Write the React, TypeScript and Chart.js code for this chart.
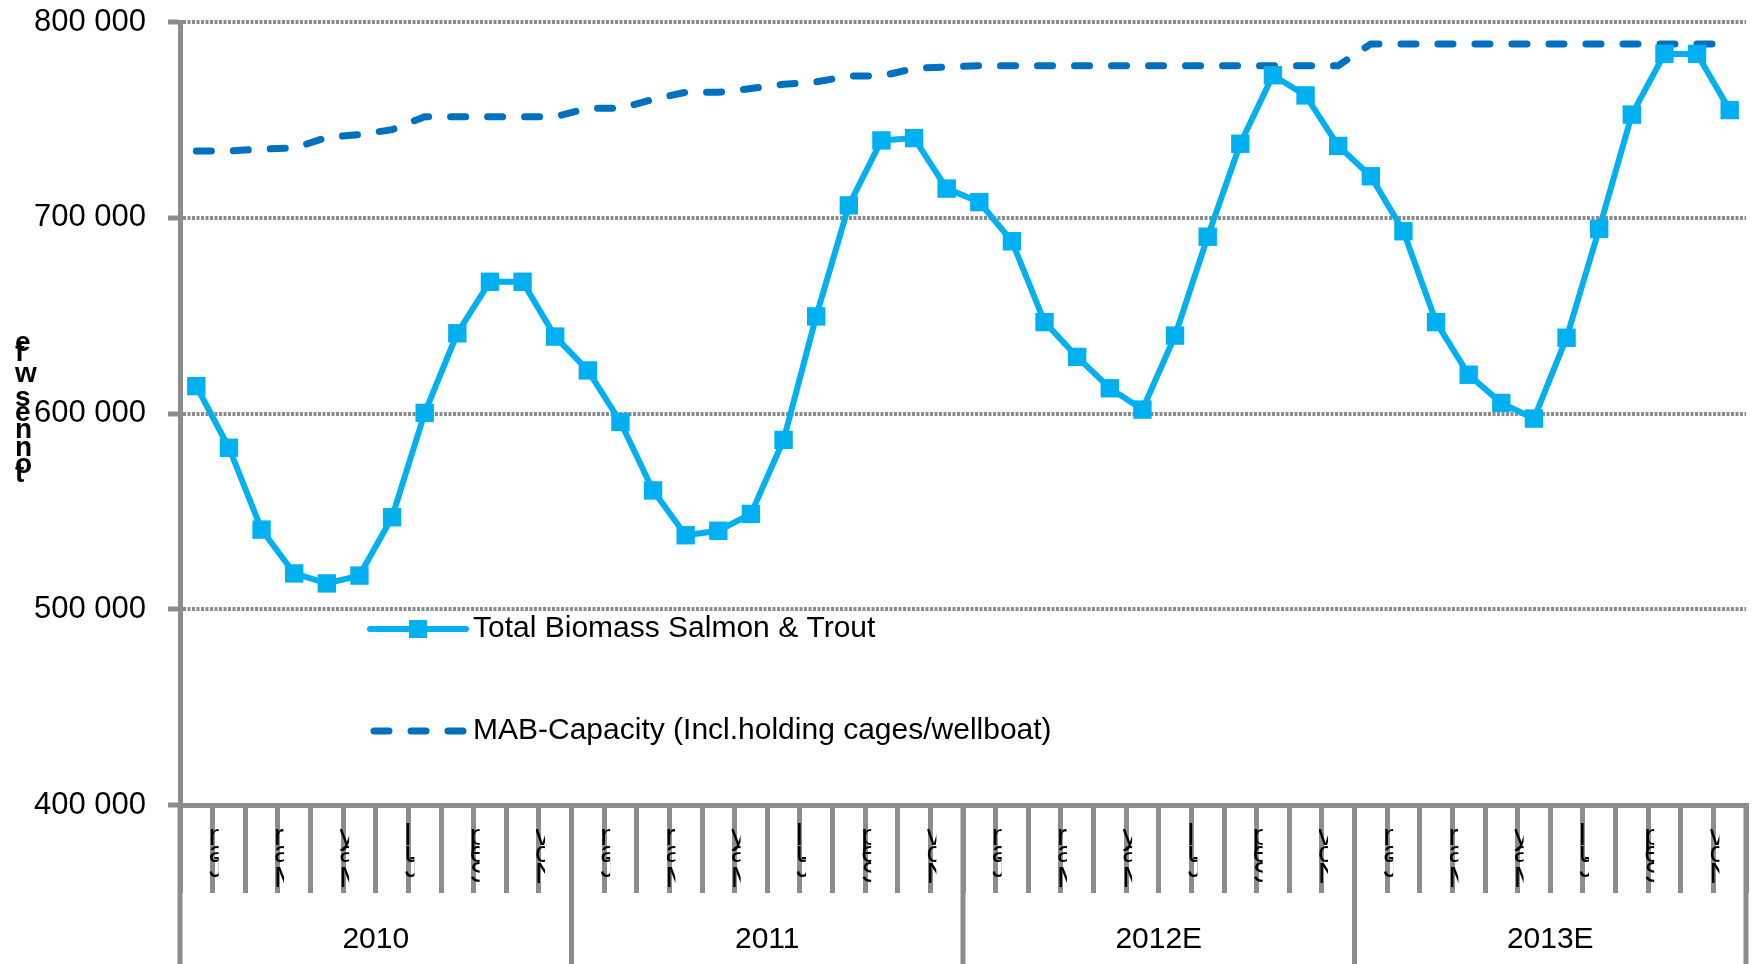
import React, { useEffect, useRef } from 'react';
import { Chart, registerables } from 'chart.js';

Chart.register(...registerables);

const categories = [
  'Jan 2010', 'Feb 2010', 'Mar 2010', 'Apr 2010', 'May 2010', 'Jun 2010', 'Jul 2010', 'Aug 2010', 'Sep 2010', 'Oct 2010', 'Nov 2010', 'Dec 2010',
  'Jan 2011', 'Feb 2011', 'Mar 2011', 'Apr 2011', 'May 2011', 'Jun 2011', 'Jul 2011', 'Aug 2011', 'Sep 2011', 'Oct 2011', 'Nov 2011', 'Dec 2011',
  'Jan 2012', 'Feb 2012', 'Mar 2012', 'Apr 2012', 'May 2012', 'Jun 2012', 'Jul 2012', 'Aug 2012', 'Sep 2012', 'Oct 2012', 'Nov 2012', 'Dec 2012',
  'Jan 2013', 'Feb 2013', 'Mar 2013', 'Apr 2013', 'May 2013', 'Jun 2013', 'Jul 2013', 'Aug 2013', 'Sep 2013', 'Oct 2013', 'Nov 2013', 'Dec 2013',
];

const biomass = [
  614000, 582500, 540700, 518300, 513200, 517200, 547000, 600300, 641000, 667300, 667300, 639300,
  622000, 595700, 560700, 537800, 540100, 548700, 586500, 649600, 706300, 739500, 740700, 714900,
  708000, 688000, 646700, 628900, 612900, 602000, 639800, 690300, 737800, 772800, 762500, 736700,
  721200, 693100, 646700, 619800, 605400, 597400, 638700, 694300, 752700, 783700, 783700, 755000,
];

const mabCapacity = [
  734100, 734100, 735100, 735600, 741000, 742500, 745000, 751600, 751600, 751600, 751600, 751600,
  755900, 755900, 760500, 764100, 764100, 766000, 768200, 769400, 772400, 772400, 776300, 777000,
  777700, 777700, 777700, 777700, 777700, 777700, 777700, 777700, 777700, 777700, 777700, 777700,
  788800, 788800, 788800, 788800, 788800, 788800, 788800, 788800, 788800, 788800, 788800, 788800,
];

const monthTickLabels = ['Jan', 'Mar', 'May', 'Jul', 'Sep', 'Nov'];
const yearLabels = ['2010', '2011', '2012E', '2013E'];
const yTitle = 'tonnes wfe';
const seriesNames = ['Total Biomass Salmon & Trout', 'MAB-Capacity (Incl.holding cages/wellboat)'];

const FONT = '"Liberation Sans", Arial, sans-serif';
const GRAY = '#8c8c8c';
const LIGHT = '#00B0F0';
const DARK = '#0070C0';
const DASH = [15, 22];

const overlayPlugin = {
  id: 'overlay',
  afterDraw(chart: any) {
    const ctx: CanvasRenderingContext2D = chart.ctx;
    const xs = chart.scales.x;
    const area = chart.chartArea;
    const H = chart.height;
    const n = categories.length;
    const catW = (xs.right - xs.left) / n;

    ctx.save();
    // year separators
    ctx.strokeStyle = GRAY;
    ctx.lineWidth = 5;
    for (let k = 0; k <= yearLabels.length; k++) {
      const x = xs.left + k * 12 * catW;
      ctx.beginPath();
      ctx.moveTo(x, area.bottom);
      ctx.lineTo(x, H);
      ctx.stroke();
    }
    // year labels
    ctx.fillStyle = '#000';
    ctx.font = `30px ${FONT}`;
    ctx.textAlign = 'center';
    ctx.textBaseline = 'middle';
    yearLabels.forEach((y, k) => {
      ctx.fillText(y, xs.left + (k * 12 + 6) * catW, 940);
    });
    // month labels: upright stacked characters clipped to a narrow strip
    ctx.font = `30px ${FONT}`;
    ctx.textAlign = 'left';
    ctx.textBaseline = 'alphabetic';
    for (let j = 0; j < n / 2; j++) {
      const x = xs.left + (2 * j + 1) * catW;
      const label = monthTickLabels[j % 6];
      ctx.save();
      ctx.beginPath();
      ctx.rect(x - 3, area.bottom + 3, 9, 92);
      ctx.clip();
      let y = 845;
      for (let c = label.length - 1; c >= 0; c--) {
        ctx.fillText(label[c], x - 4, y);
        if (c > 0) y += ctx.measureText(label[c - 1]).width;
      }
      ctx.restore();
    }
    // y title, stacked characters
    ctx.font = `bold 28px ${FONT}`;
    ctx.textAlign = 'left';
    ctx.textBaseline = 'alphabetic';
    let yy = 482;
    for (const ch of yTitle) {
      ctx.fillText(ch, 15, yy);
      yy -= ctx.measureText(ch).width;
    }
    // legend
    const lx0 = 370, lx1 = 466, tx = 473;
    const r1 = 629, r2 = 731;
    ctx.strokeStyle = LIGHT;
    ctx.lineWidth = 6;
    ctx.lineCap = 'round';
    ctx.beginPath();
    ctx.moveTo(lx0, r1);
    ctx.lineTo(lx1, r1);
    ctx.stroke();
    ctx.fillStyle = LIGHT;
    ctx.fillRect((lx0 + lx1) / 2 - 9, r1 - 9, 18, 18);
    ctx.strokeStyle = DARK;
    ctx.lineWidth = 7;
    ctx.setLineDash(DASH);
    ctx.beginPath();
    ctx.moveTo(lx0 + 4, r2);
    ctx.lineTo(lx1, r2);
    ctx.stroke();
    ctx.setLineDash([]);
    ctx.fillStyle = '#000';
    ctx.font = `30px ${FONT}`;
    ctx.textAlign = 'left';
    ctx.textBaseline = 'middle';
    ctx.fillText(seriesNames[0], tx, r1);
    ctx.fillText(seriesNames[1], tx, r2);
    ctx.restore();
  },
};

function fmt(v: number) {
  return String(v).replace(/\B(?=(\d{3})+(?!\d))/g, ' ');
}

export default function App() {
  const ref = useRef<HTMLCanvasElement>(null);
  useEffect(() => {
    document.body.style.margin = '0';
    const canvas = ref.current;
    if (!canvas) return;
    Chart.defaults.font.family = FONT;
    const chart = new Chart(canvas, {
      type: 'line',
      data: {
        labels: categories,
        datasets: [
          {
            label: seriesNames[0],
            data: biomass,
            borderColor: LIGHT,
            backgroundColor: LIGHT,
            borderWidth: 6,
            pointStyle: 'rect',
            pointRadius: 13,
            pointBorderWidth: 0,
            pointBackgroundColor: LIGHT,
            tension: 0,
          },
          {
            label: seriesNames[1],
            data: mabCapacity,
            borderColor: DARK,
            backgroundColor: DARK,
            borderWidth: 7,
            borderDash: DASH,
            borderCapStyle: 'round',
            pointRadius: 0,
            tension: 0,
          },
        ],
      },
      options: {
        animation: false,
        responsive: false,
        devicePixelRatio: 1,
        layout: { padding: { top: 22, right: 4, left: 0, bottom: 0 } },
        plugins: { legend: { display: false }, tooltip: { enabled: false } },
        scales: {
          x: {
            type: 'category',
            offset: true,
            grid: {
              display: true,
              offset: true,
              drawOnChartArea: false,
              drawTicks: true,
              tickLength: 88,
              tickWidth: 5,
              tickColor: GRAY,
              color: GRAY,
              lineWidth: 5,
            },
            border: { display: true, color: GRAY, width: 5 },
            ticks: { display: false },
            afterFit: (s: any) => { s.height = 159; s.paddingLeft = 0; s.paddingRight = 0; },
          },
          y: {
            min: 400000,
            max: 800000,
            ticks: {
              stepSize: 100000,
              color: '#000',
              font: { size: 31, family: FONT },
              padding: 22,
              callback: (v: any) => fmt(Number(v)),
            },
            grid: {
              color: GRAY,
              lineWidth: 4,
              tickLength: 12,
              tickWidth: 5,
              tickColor: GRAY,
            },
            border: { display: true, color: GRAY, width: 5, dash: [3, 1.5] },
            afterFit: (s: any) => { s.width = 180; s.paddingTop = 0; s.paddingBottom = 0; },
          },
        },
      },
      plugins: [overlayPlugin],
    });
    return () => chart.destroy();
  }, []);
  return (
    <div style={{ width: 1759, height: 964 }}>
      <canvas ref={ref} width={1759} height={964} style={{ display: 'block' }} />
    </div>
  );
}
